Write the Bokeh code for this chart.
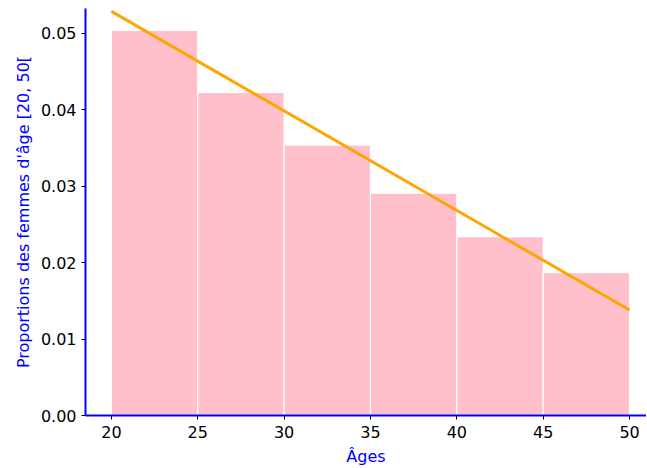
from bokeh.plotting import figure
from bokeh.models import Range1d, FixedTicker, NumeralTickFormatter
from bokeh.embed import file_html
from bokeh.resources import INLINE

bin_left = [20, 25, 30, 35, 40, 45]
bin_right = [25, 30, 35, 40, 45, 50]
proportions = [0.0504, 0.0423, 0.0354, 0.0291, 0.0234, 0.0187]
line_x = [20, 50]
line_y = [0.0529, 0.0138]
x_ticks = [20, 25, 30, 35, 40, 45, 50]
y_ticks = [0.0, 0.01, 0.02, 0.03, 0.04, 0.05]

p = figure(width=646, height=468, output_backend="svg", toolbar_location=None,
           x_range=Range1d(18.5, 50.98), y_range=Range1d(0, 0.05327),
           min_border_left=85, min_border_right=0, min_border_top=8, min_border_bottom=53)
p.outline_line_color = None
p.grid.visible = False

p.quad(left=bin_left, right=bin_right, bottom=0, top=proportions,
       fill_color="#FFC0CB", line_color="white", line_width=1.2)
p.line(line_x, line_y, line_color="orange", line_width=3)

for ax in (p.xaxis[0], p.yaxis[0]):
    ax.axis_line_color = "blue"
    ax.axis_line_width = 2
    ax.major_tick_line_color = "black"
    ax.major_tick_out = 4
    ax.major_tick_in = 0
    ax.minor_tick_line_color = None
    ax.major_label_text_font = "DejaVu Sans"
    ax.major_label_text_font_size = "12pt"
    ax.major_label_text_color = "black"
    ax.axis_label_text_font = "DejaVu Sans"
    ax.axis_label_text_font_size = "12pt"
    ax.axis_label_text_font_style = "normal"
    ax.axis_label_text_color = "blue"

p.xaxis.ticker = FixedTicker(ticks=x_ticks)
p.yaxis.ticker = FixedTicker(ticks=y_ticks)
p.yaxis.formatter = NumeralTickFormatter(format="0.00")
p.xaxis.axis_label = "Âges"
p.yaxis.axis_label = "Proportions des femmes d'âge [20, 50["
p.xaxis.major_label_standoff = 6
p.xaxis.axis_label_standoff = 6
p.yaxis.major_label_standoff = 5

open("out.html", "w").write(file_html(p, INLINE))
